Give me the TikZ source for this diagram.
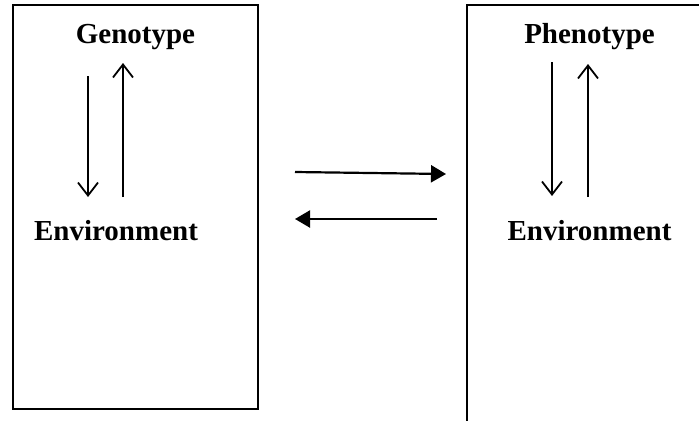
\documentclass[tikz,border=0pt]{standalone}
\usepackage{fontspec}
\setmainfont{Liberation Serif}
\usetikzlibrary{arrows.meta}

\tikzset{
  word/.style={font=\bfseries\fontsize{29}{34}\selectfont, inner sep=0pt, anchor=base},
  frame/.style={line width=2pt},
  barb/.style={line width=1.8pt, -{Straight Barb[length=13pt,width=20pt]}},
  swap/.style={line width=2.2pt, -{Triangle[length=15pt,width=17pt]}},
}

\begin{document}
\begin{tikzpicture}[x=1pt,y=-1pt]
	\useasboundingbox (0,0) rectangle (699,421);
	%
	\draw[frame] (13,5) rectangle (258,409);
	\draw[frame] (699,5) -- (467,5) -- (467,421);
	%
	\node[word] (geno) at (135.5,43) {Genotype};
	\node[word] (envl) at (116,240) {Environment};
	\node[word] (pheno) at (589.5,43) {Phenotype};
	\node[word] (envr) at (589.5,240) {Environment};
	%
	\coordinate (gd1) at (88,76);
	\coordinate (gd2) at (88,197);
	\coordinate (gu1) at (123,197);
	\coordinate (gu2) at (123,63);
	\coordinate (pd1) at (552,62);
	\coordinate (pd2) at (552,196);
	\coordinate (pu1) at (588,197);
	\coordinate (pu2) at (588,64);
	\coordinate (fw1) at (295,172);
	\coordinate (fw2) at (446,174);
	\coordinate (bw1) at (437,219);
	\coordinate (bw2) at (295,219);
	%
	\draw[barb] (gd1) -- (gd2);
	\draw[barb] (gu1) -- (gu2);
	\draw[barb] (pd1) -- (pd2);
	\draw[barb] (pu1) -- (pu2);
	\draw[swap] (fw1) -- (fw2);
	\draw[swap] (bw1) -- (bw2);
\end{tikzpicture}
\end{document}
